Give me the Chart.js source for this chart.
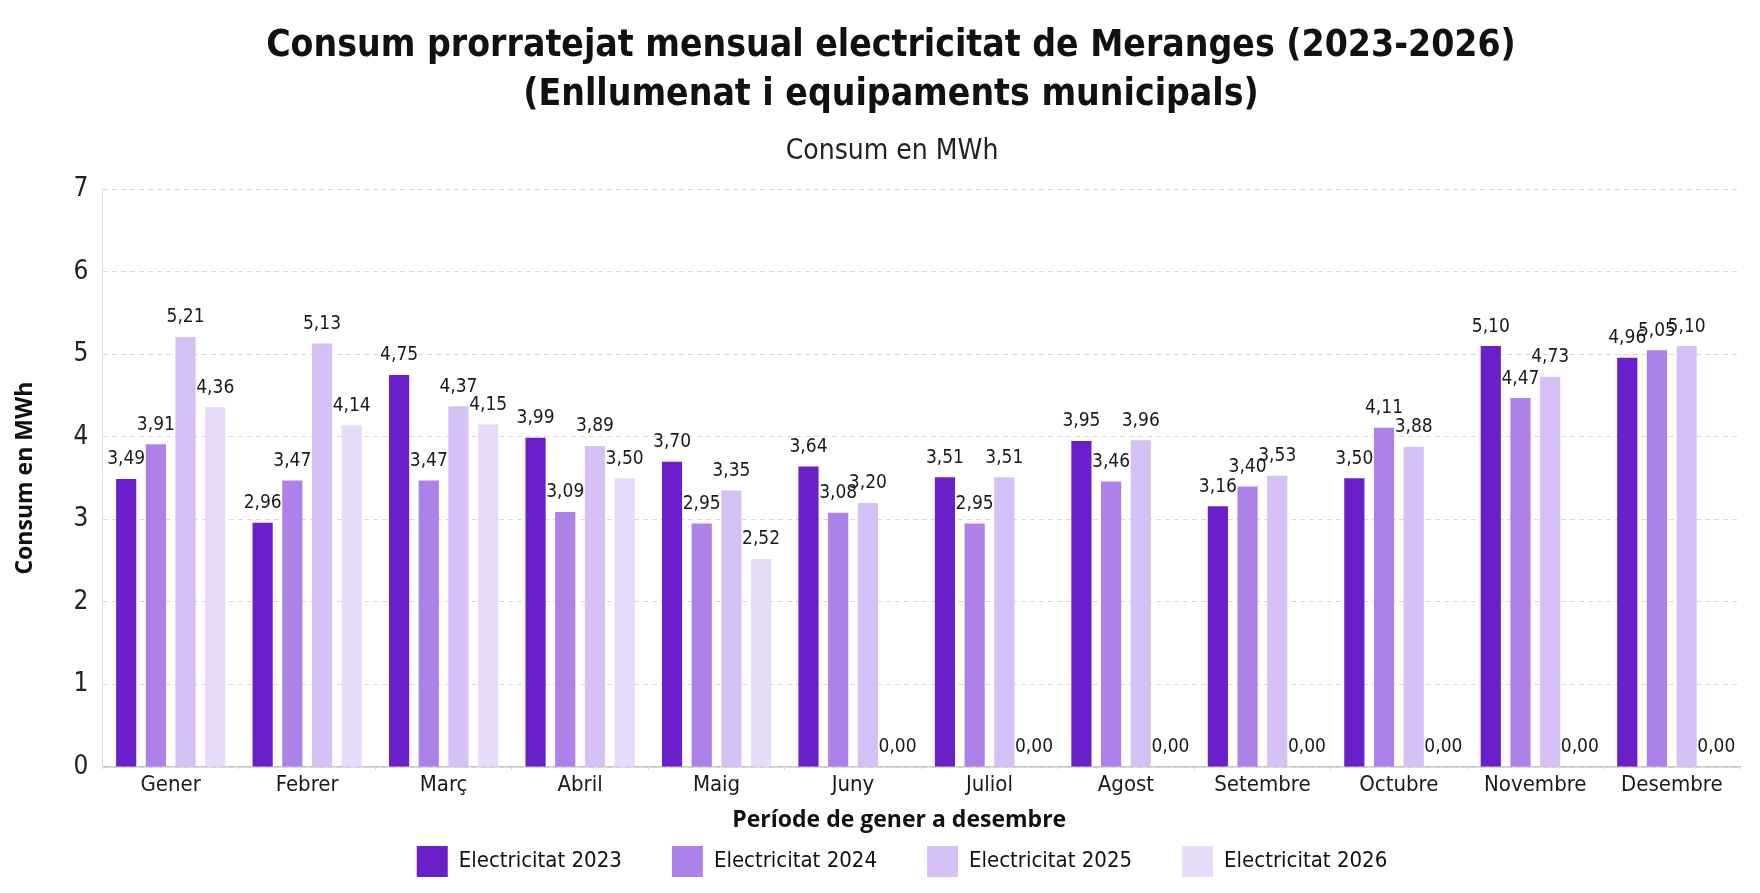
<!DOCTYPE html>
<html>
<head>
<meta charset="utf-8">
<script src="https://cdn.jsdelivr.net/npm/chart.js@4"></script>
<style>
  html, body { margin: 0; padding: 0; background: #fff; }
  #wrap { width: 1760px; height: 893px; }
</style>
</head>
<body>
<div id="wrap"><canvas id="mainChart"></canvas></div>
<script>
// Dades: consum mensual en MWh
const months = ['Gener', 'Febrer', 'Març', 'Abril', 'Maig', 'Juny', 'Juliol', 'Agost', 'Setembre', 'Octubre', 'Novembre', 'Desembre'];
const elec2023 = [3.49, 2.96, 4.75, 3.99, 3.70, 3.64, 3.51, 3.95, 3.16, 3.50, 5.10, 4.96];
const elec2024 = [3.91, 3.47, 3.47, 3.09, 2.95, 3.08, 2.95, 3.46, 3.40, 4.11, 4.47, 5.05];
const elec2025 = [5.21, 5.13, 4.37, 3.89, 3.35, 3.20, 3.51, 3.96, 3.53, 3.88, 4.73, 5.10];
const elec2026 = [4.36, 4.14, 4.15, 3.50, 2.52, 0, 0, 0, 0, 0, 0, 0];
const yTicks = [0, 1, 2, 3, 4, 5, 6, 7];

// Colors
const c2023 = '#6a1fcb';
const c2024 = '#ad80ea';
const c2025 = '#d5c1f6';
const c2026 = '#e6dbfb';

const narrow = "'Liberation Sans Narrow', 'DejaVu Sans Condensed', 'Roboto', sans-serif";
const wide = "'Open Sans', 'Noto Sans', sans-serif";

const fmt = v => v.toFixed(2).replace('.', ',');

// etiquetes de valor sobre les barres
const valueLabels = {
    id: 'valueLabels',
    afterDatasetsDraw(chart) {
        const ctx = chart.ctx;
        ctx.save();
        ctx.font = '19px ' + narrow;
        ctx.fillStyle = '#1a1a1a';
        ctx.textAlign = 'center';
        ctx.textBaseline = 'bottom';
        chart.data.datasets.forEach((ds, i) => {
            chart.getDatasetMeta(i).data.forEach((bar, j) => {
                ctx.fillText(fmt(ds.data[j]), bar.x, bar.y - 10);
            });
        });
        ctx.restore();
    }
};

// petits desplaçaments de títols i llegenda
const legendGap = 38;
const legendShift = 28;
const titleShift = 17;
const subtitleShift = 18;
const xTitleShift = -22;

const wrapDraw = (obj, name, dx, dy) => {
    const inner = obj[name].bind(obj);
    obj[name] = function (...args) {
        this.ctx.save();
        this.ctx.translate(dx, dy);
        inner(...args);
        this.ctx.restore();
    };
};

const nudges = {
    id: 'nudges',
    afterInit(chart) {
        const lg = chart.legend;
        if (lg && !lg._tight) {
            // la llegenda fa servir el mateix padding en horitzontal i vertical: retallem l'espai de dalt
            lg._tight = true;
            const fit = lg.fit.bind(lg);
            lg.fit = function () { fit(); this.height -= legendGap; };
            wrapDraw(lg, '_draw', legendShift, -legendGap);
        }
        chart.boxes.forEach(box => {
            if (box._nudged || !box.options || box.options.text === undefined || box === lg) return;
            box._nudged = true;
            wrapDraw(box, 'draw', box === chart.titleBlock ? titleShift : subtitleShift, 0);
        });
    },
    beforeDraw(chart) {
        const sx = chart.scales.x;
        if (sx && !sx._nudged) {
            sx._nudged = true;
            wrapDraw(sx, 'drawTitle', xTitleShift, 0);
        }
    }
};

const mkSet = (label, data, color) => ({
    label: label,
    data: data,
    backgroundColor: color,
    borderWidth: 0,
    categoryPercentage: 0.87,
    barPercentage: 0.68
});

new Chart(document.getElementById('mainChart'), {
    type: 'bar',
    data: {
        labels: months,
        datasets: [
            mkSet('Electricitat 2023', elec2023, c2023),
            mkSet('Electricitat 2024', elec2024, c2024),
            mkSet('Electricitat 2025', elec2025, c2025),
            mkSet('Electricitat 2026', elec2026, c2026)
        ]
    },
    options: {
        responsive: true,
        maintainAspectRatio: false,
        animation: false,
        layout: { padding: { left: 8, right: 20, top: 0, bottom: 6 } },
        plugins: {
            title: {
                display: true,
                text: ['Consum prorratejat mensual electricitat de Meranges (2023-2026)', '(Enllumenat i equipaments municipals)'],
                font: { family: narrow, size: 37, weight: 'bold', lineHeight: 1.32 },
                color: '#111',
                padding: { top: 22, bottom: 15 }
            },
            subtitle: {
                display: true,
                text: 'Consum en MWh',
                font: { family: narrow, size: 28 },
                color: '#222',
                padding: { bottom: 21 }
            },
            legend: {
                position: 'bottom',
                labels: {
                    boxWidth: 31,
                    boxHeight: 31,
                    padding: 50,
                    color: '#111',
                    font: { family: narrow, size: 22 }
                }
            },
            tooltip: { enabled: false }
        },
        scales: {
            x: {
                grid: { display: true, drawOnChartArea: false, drawTicks: true, tickLength: 3, color: '#dcdcdc' },
                border: { display: true, color: '#c8c8c8', width: 1.5 },
                ticks: { color: '#1a1a1a', font: { family: narrow, size: 22 }, padding: 2 },
                title: {
                    display: true,
                    text: 'Període de gener a desembre',
                    color: '#111',
                    font: { family: wide, size: 23, weight: 'bold' },
                    padding: { top: 6, bottom: 0 }
                }
            },
            y: {
                min: 0,
                max: 7,
                afterBuildTicks: axis => { axis.ticks = yTicks.map(v => ({ value: v })); },
                grid: { color: '#dadada', drawTicks: false, lineWidth: 1 },
                border: { display: true, color: '#dddddd', dash: [5, 4] },
                ticks: { color: '#222', font: { family: narrow, size: 26 }, padding: 14 },
                title: {
                    display: true,
                    text: 'Consum en MWh',
                    color: '#111',
                    font: { family: wide, size: 23, weight: 'bold' },
                    padding: { bottom: 20 }
                }
            }
        }
    },
    plugins: [valueLabels, nudges]
});
</script>
</body>
</html>
